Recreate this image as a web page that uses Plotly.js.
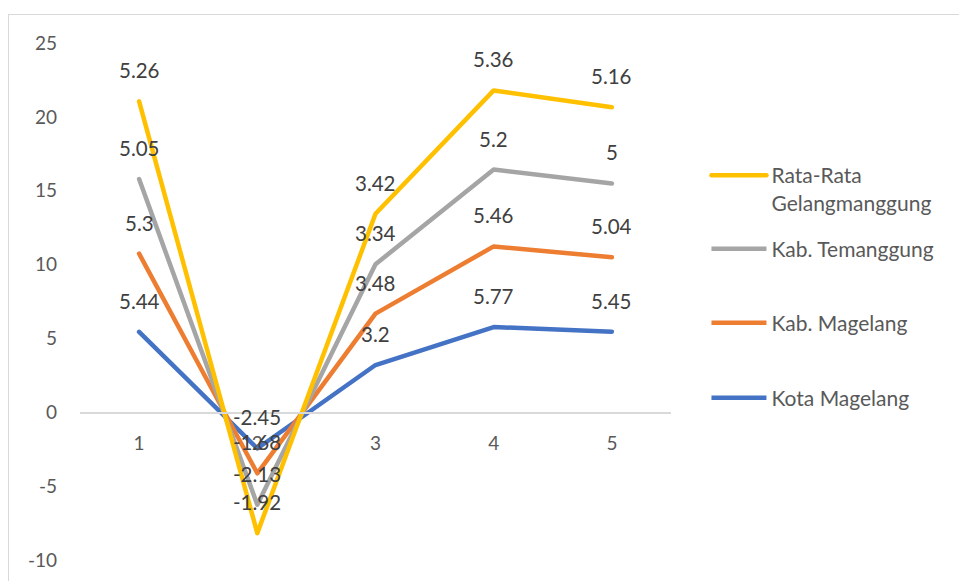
<!DOCTYPE html>
<html>
<head>
<meta charset="utf-8">
<script src="https://cdn.plot.ly/plotly-3.0.1.min.js"></script>
<style>
  html, body { margin: 0; padding: 0; background: #ffffff; }
  #wrap { position: relative; width: 959px; height: 581px; overflow: hidden; }
  #frame { position: absolute; left: 8px; top: 14px; width: 1000px; height: 700px; border: 1.5px solid #d9d9d9; box-sizing: border-box; }
  #chart { position: absolute; left: 0; top: 0; width: 959px; height: 581px; }
  #chart .scatterlayer path.js-line, #chart .legend path.js-line { stroke-linecap: round; stroke-linejoin: round; }
</style>
</head>
<body>
<div id="wrap">
  <div id="frame"></div>
  <div id="chart"></div>
</div>
<script>
// Data
const categories = ['1', '2', '3', '4', '5'];
const seriesNames = ['Kota Magelang', 'Kab. Magelang', 'Kab. Temanggung', 'Rata-Rata<br>Gelangmanggung'];
const kotaMagelang = [5.44, -2.45, 3.2, 5.77, 5.45];
const kabMagelang = [5.3, -1.68, 3.48, 5.46, 5.04];
const kabTemanggung = [5.05, -2.13, 3.34, 5.2, 5];
const rataRata = [5.26, -1.92, 3.42, 5.36, 5.16];
const yTickVals = [-10, -5, 0, 5, 10, 15, 20, 25];
const yTickText = ['-10', '-5', '0', '5', '10', '15', '20', '25'];

const seriesValues = [kotaMagelang, kabMagelang, kabTemanggung, rataRata];
const colors = ['#4472C4', '#ED7D31', '#A5A5A5', '#FFC000'];
const legendIds = ['legend4', 'legend3', 'legend2', 'legend'];

const traces = seriesValues.map((vals, i) => ({
  type: 'scatter',
  mode: 'lines',
  x: categories,
  y: vals,
  name: seriesNames[i],
  stackgroup: 'one',
  fill: 'none',
  line: { color: colors[i], width: 4.5 },
  legend: legendIds[i],
  hoverinfo: 'skip'
}));

// cumulative sums for label placement (stacked line)
const cum = seriesValues.map((_, i) =>
  categories.map((_, j) => seriesValues.slice(0, i + 1).reduce((s, arr) => s + arr[j], 0)));

const annotations = [];
seriesValues.forEach((vals, i) => {
  vals.forEach((v, j) => {
    annotations.push({
      x: j, y: cum[i][j], xref: 'x', yref: 'y',
      text: String(v), showarrow: false, yanchor: 'middle', yshift: 31,
      font: { family: 'Lato, sans-serif', size: 20.5, color: '#404040' }
    });
  });
});

const plotTop = 43, plotBottom = 560;
const fy = px => (plotBottom - px) / (plotBottom - plotTop);
const legendFont = { family: 'Lato, sans-serif', size: 21, color: '#595959' };
const mkLegend = (pxY, anchor) => ({
  x: 1.06, xanchor: 'left', y: fy(pxY), yanchor: anchor,
  bgcolor: 'rgba(0,0,0,0)', font: legendFont, valign: 'top', itemwidth: 55
});

const layout = {
  width: 959, height: 581,
  margin: { l: 80, r: 288, t: plotTop, b: 581 - plotBottom },
  paper_bgcolor: 'rgba(0,0,0,0)',
  plot_bgcolor: 'rgba(0,0,0,0)',
  font: { family: 'Lato, sans-serif', size: 19, color: '#595959' },
  xaxis: {
    type: 'category', range: [-0.5, 4.5],
    anchor: 'free', position: 10 / 35,
    showline: true, linecolor: '#d9d9d9', linewidth: 1.5,
    showgrid: false, zeroline: false, ticks: '', ticklabelstandoff: 13,
    tickfont: { family: 'Lato, sans-serif', size: 19, color: '#595959' }
  },
  yaxis: {
    range: [-10, 25], tickvals: yTickVals, ticktext: yTickText,
    showgrid: false, zeroline: false,
    showline: false, ticks: '', ticklabelstandoff: 22,
    tickfont: { family: 'Lato, sans-serif', size: 19, color: '#595959' }
  },
  legend: mkLegend(176 - 21, 'top'),
  legend2: mkLegend(249, 'middle'),
  legend3: mkLegend(323, 'middle'),
  legend4: mkLegend(398, 'middle'),
  annotations: annotations,
  showlegend: true
};

Plotly.newPlot('chart', traces, layout, { displayModeBar: false, staticPlot: true });
</script>
</body>
</html>
